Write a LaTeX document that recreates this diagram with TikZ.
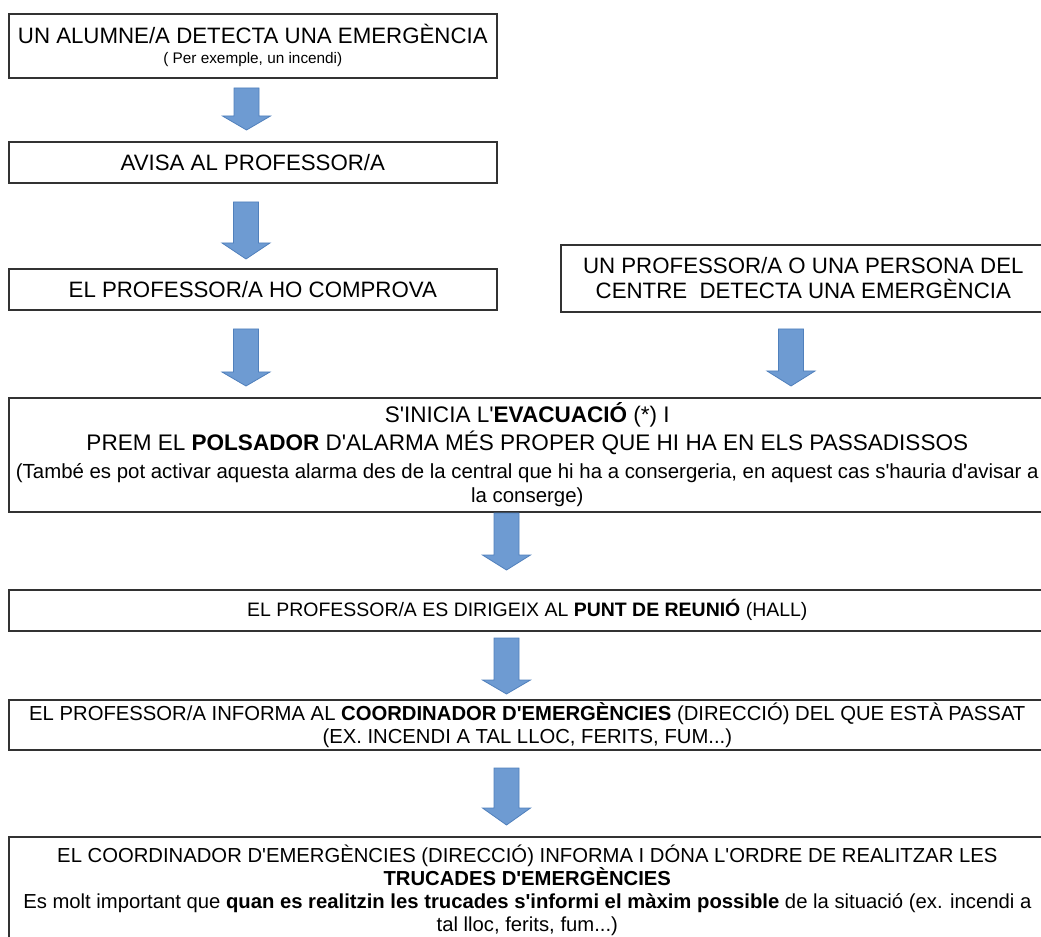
\documentclass[tikz,border=0pt]{standalone}
\usepackage{fontspec}
\setmainfont{Liberation Sans}[Ligatures=TeXOff]
\definecolor{boxc}{RGB}{50,50,50}
\definecolor{arrfill}{RGB}{110,155,210}
\definecolor{arrdraw}{RGB}{80,128,188}
\newcommand\blockarrow[4]{%
  \filldraw[arrowshape] (#1-12.5,#2) -- (#1+12.5,#2) -- (#1+12.5,#3) -- (#1+24,#3)
    -- (#1,#4) -- (#1-24,#3) -- (#1-12.5,#3) -- cycle;}
\begin{document}
\begin{tikzpicture}[x=0.75pt,y=-0.75pt,
  box/.style={draw=boxc, line width=1.2pt, rectangle, inner sep=0pt,
    anchor=north west, align=center, fill=white},
  arrowshape/.style={fill=arrfill, draw=arrdraw, line width=0.6pt, line join=miter}]
\useasboundingbox (0,0) rectangle (1041,937);
\clip (0,0) rectangle (1041,937);
\fill[white] (0,0) rectangle (1041,937);

\node[box, minimum width=366pt, minimum height=48pt,
  font=\fontsize{16.7pt}{16pt}\selectfont] (b1) at (8,13)
  {UN ALUMNE/A DETECTA UNA EMERGÈNCIA\\[-1pt]{\fontsize{11.5pt}{13pt}\selectfont ( Per exemple, un incendi)}};

\node[box, minimum width=366pt, minimum height=30.75pt,
  font=\fontsize{16.7pt}{18pt}\selectfont] (b2) at (8,141)
  {AVISA AL PROFESSOR/A};

\node[box, minimum width=366pt, minimum height=30.75pt,
  font=\fontsize{16.7pt}{18pt}\selectfont] (b3) at (8,268)
  {EL PROFESSOR/A HO COMPROVA};

\node[box, minimum width=363.75pt, minimum height=50.25pt,
  font=\fontsize{16.7pt}{18.75pt}\selectfont] (b4) at (560,244)
  {UN PROFESSOR/A O UNA PERSONA DEL\\CENTRE\ \ DETECTA UNA EMERGÈNCIA};

\node[box, minimum width=777.75pt, minimum height=85.5pt,
  font=\fontsize{16.9pt}{21pt}\selectfont] (b5) at (8,397)
  {S'INICIA L'\textbf{EVACUACIÓ} (*) I\\
   PREM EL \textbf{POLSADOR} D'ALARMA MÉS PROPER QUE HI HA EN ELS PASSADISSOS\\
   {\fontsize{15.3pt}{18pt}\selectfont (També es pot activar aquesta alarma des de la central que hi ha a consergeria, en aquest cas s'hauria d'avisar a}\\[-3pt]
   {\fontsize{15.3pt}{18pt}\selectfont la conserge)}};

\node[box, minimum width=777.75pt, minimum height=30.75pt,
  font=\fontsize{14.6pt}{17pt}\selectfont] (b6) at (8,589)
  {EL PROFESSOR/A ES DIRIGEIX AL \textbf{PUNT DE REUNIÓ} (HALL)};

\node[box, minimum width=777.75pt, minimum height=37.5pt,
  font=\fontsize{15.2pt}{17.25pt}\selectfont] (b7) at (8,699)
  {EL PROFESSOR/A INFORMA AL \textbf{COORDINADOR D'EMERGÈNCIES} (DIRECCIÓ) DEL QUE ESTÀ PASSAT\\
   (EX. INCENDI A TAL LLOC, FERITS, FUM...)};

\node[box, minimum width=777.75pt, minimum height=80.25pt,
  font=\fontsize{15.2pt}{17.25pt}\selectfont] (b8) at (8,836)
  {EL COORDINADOR D'EMERGÈNCIES (DIRECCIÓ) INFORMA I DÓNA L'ORDRE DE REALITZAR LES\\
   \textbf{TRUCADES D'EMERGÈNCIES}\\
   Es molt important que \textbf{quan es realitzin les trucades s'informi el màxim possible} de la situació (ex. incendi a\\
   tal lloc, ferits, fum...)};

\blockarrow{246.5}{88}{116}{130}
\blockarrow{246}{202}{243}{259}
\blockarrow{246}{329}{372}{386}
\blockarrow{791}{329}{371}{386}
\blockarrow{506.5}{513}{555}{570}
\blockarrow{506.5}{638}{680}{694}
\blockarrow{506.5}{768}{808}{825}
\end{tikzpicture}
\end{document}
